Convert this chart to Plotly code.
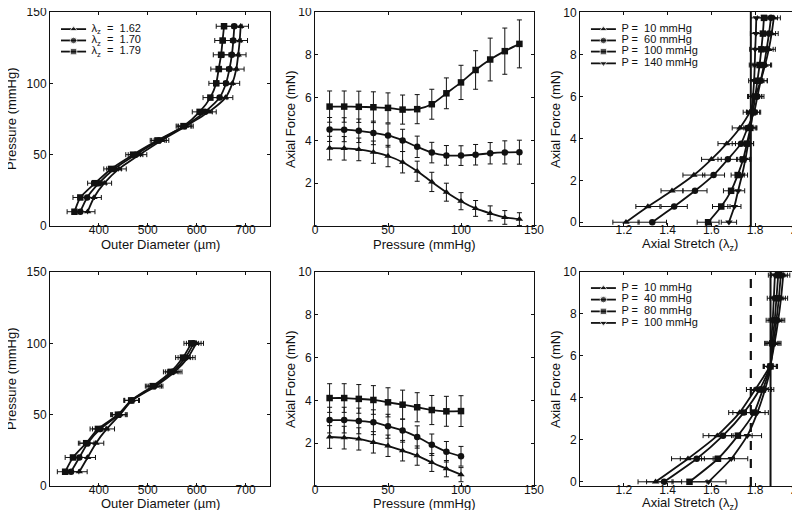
import plotly.graph_objects as go

# ---------------- data ----------------
# Top row (lambda_z = 1.62, 1.70, 1.79)
P_TOP = [10, 20, 30, 40, 50, 60, 70, 80, 90, 100, 110, 120, 130, 140]
OD_TOP_162 = [377, 390, 411, 441, 483, 528, 578, 625, 659, 673, 681, 685, 688, 690]
OD_TOP_170 = [362, 376, 400, 431, 475, 523, 575, 617, 647, 660, 667, 672, 675, 677]
OD_TOP_179 = [350, 362, 392, 425, 470, 520, 573, 606, 628, 640, 645, 650, 653, 656]
OD_TOP_ERR = [15, 15, 15, 15, 15, 15, 15, 15, 15, 15, 16, 16, 16, 16]

AF_TOP_162 = [3.64, 3.63, 3.58, 3.45, 3.27, 2.98, 2.56, 2.06, 1.58, 1.16, 0.82, 0.59, 0.40, 0.32]
AF_TOP_170 = [4.51, 4.50, 4.45, 4.35, 4.23, 4.00, 3.70, 3.43, 3.30, 3.29, 3.33, 3.40, 3.44, 3.45]
AF_TOP_179 = [5.58, 5.58, 5.57, 5.55, 5.52, 5.44, 5.46, 5.69, 6.20, 6.71, 7.29, 7.78, 8.17, 8.51]
AF_TOP_162_ERR = [0.55, 0.55, 0.53, 0.52, 0.50, 0.50, 0.47, 0.45, 0.42, 0.40, 0.37, 0.35, 0.32, 0.30]
AF_TOP_170_ERR = [0.56, 0.56, 0.55, 0.55, 0.54, 0.52, 0.50, 0.48, 0.46, 0.46, 0.48, 0.50, 0.54, 0.56]
AF_TOP_179_ERR = [0.73, 0.73, 0.73, 0.72, 0.70, 0.68, 0.68, 0.70, 0.72, 0.80, 0.90, 1.00, 1.08, 1.12]

F_LEVELS_TOP = [0, 0.75, 1.5, 2.25, 3.0, 3.75, 4.5, 5.25, 6.0, 6.75, 7.5, 8.25, 9.0, 9.75]
ST_TOP_P10 = [1.21, 1.31, 1.42, 1.52, 1.60, 1.67, 1.73, 1.775, 1.80, 1.825, 1.845, 1.862, 1.875, 1.885]
ST_TOP_P60 = [1.33, 1.43, 1.525, 1.61, 1.675, 1.735, 1.765, 1.795, 1.81, 1.825, 1.84, 1.852, 1.863, 1.872]
ST_TOP_P100 = [1.585, 1.645, 1.69, 1.72, 1.745, 1.762, 1.778, 1.79, 1.80, 1.81, 1.82, 1.828, 1.835, 1.84]
ST_TOP_P140 = [1.68, 1.705, 1.722, 1.74, 1.755, 1.768, 1.78, 1.785, 1.79, 1.795, 1.798, 1.80, 1.803, 1.805]
ST_TOP_P10_ERR = [0.06, 0.055, 0.05, 0.05, 0.045, 0.04, 0.035, 0.03, 0.03, 0.03, 0.03, 0.03, 0.03, 0.03]
ST_TOP_P60_ERR = [0.065, 0.06, 0.055, 0.05, 0.045, 0.04, 0.035, 0.03, 0.03, 0.03, 0.03, 0.03, 0.03, 0.03]
ST_TOP_P100_ERR = [0.05, 0.04, 0.035, 0.03, 0.03, 0.03, 0.03, 0.03, 0.03, 0.03, 0.03, 0.03, 0.03, 0.03]
ST_TOP_P140_ERR = [0.035, 0.03, 0.03, 0.025, 0.025, 0.025, 0.025, 0.025, 0.025, 0.025, 0.025, 0.025, 0.025, 0.025]
INVIVO_TOP = 1.78

# Bottom row
P_BOT = [10, 20, 30, 40, 50, 60, 70, 80, 90, 100]
OD_BOT_A = [360, 377, 394, 416, 443, 468, 516, 555, 582, 599]
OD_BOT_B = [343, 360, 377, 403, 441, 467, 513, 551, 577, 594]
OD_BOT_C = [331, 347, 374, 398, 439, 466, 510, 547, 572, 589]
OD_BOT_ERR = [16, 16, 16, 16, 15, 15, 15, 15, 15, 15]

AF_BOT_A = [2.29, 2.26, 2.20, 2.04, 1.88, 1.65, 1.42, 1.10, 0.81, 0.53]
AF_BOT_B = [3.08, 3.08, 3.04, 2.98, 2.79, 2.59, 2.29, 1.93, 1.60, 1.39]
AF_BOT_C = [4.11, 4.11, 4.07, 4.02, 3.91, 3.80, 3.68, 3.55, 3.49, 3.50]
AF_BOT_A_ERR = [0.53, 0.53, 0.52, 0.50, 0.50, 0.48, 0.45, 0.42, 0.38, 0.33]
AF_BOT_B_ERR = [0.60, 0.60, 0.60, 0.58, 0.56, 0.54, 0.52, 0.50, 0.48, 0.46]
AF_BOT_C_ERR = [0.67, 0.67, 0.67, 0.67, 0.68, 0.68, 0.68, 0.68, 0.70, 0.72]

F_LEVELS_BOT = [0, 1.1, 2.2, 3.3, 4.4, 5.5, 6.6, 7.7, 8.75, 9.85]
ST_BOT_P10 = [1.345, 1.493, 1.627, 1.729, 1.80, 1.866, 1.888, 1.905, 1.918, 1.928]
ST_BOT_P40 = [1.384, 1.533, 1.653, 1.748, 1.82, 1.868, 1.883, 1.897, 1.908, 1.917]
ST_BOT_P80 = [1.50, 1.63, 1.721, 1.795, 1.835, 1.870, 1.878, 1.889, 1.897, 1.905]
ST_BOT_P100 = [1.587, 1.691, 1.764, 1.81, 1.845, 1.872, 1.873, 1.88, 1.885, 1.89]
ST_BOT_ERR = [0.08, 0.075, 0.065, 0.05, 0.04, 0.03, 0.03, 0.03, 0.03, 0.03]
INVIVO_BOT_DASH = 1.78
INVIVO_BOT_SOLID = 1.87

LEG_TOP_LEFT = ["λ<sub>z</sub>  =  1.62", "λ<sub>z</sub>  =  1.70", "λ<sub>z</sub>  =  1.79"]
LEG_TOP_RIGHT = ["P =  10 mmHg", "P =  60 mmHg", "P =  100 mmHg", "P =  140 mmHg"]
LEG_BOT_RIGHT = ["P =  10 mmHg", "P =  40 mmHg", "P =  80 mmHg", "P =  100 mmHg"]

# ---------------- styling ----------------
W, H = 800, 510
FONT = "Arial"
BLACK = "#111111"
SYM3 = ["triangle-up", "circle", "square"]
SYM4 = ["triangle-up", "circle", "square", "triangle-down"]
MS = 6.5

# domains (pixels -> fractions)
COLS = [(42, 262), (307, 526), (572, 791)]
ROWS = [(4, 218), (264, 478)]
YTITLE_X = [3, 282, 547]       # px anchor of y-axis titles per column
XTITLE_Y = [236, 495]          # px anchor of x-axis titles per row


def xd(c):
    return [COLS[c][0] / W, COLS[c][1] / W]


def yd(r):
    return [1 - ROWS[r][1] / H, 1 - ROWS[r][0] / H]


fig = go.Figure()


def add_series(xs, ys, sym, ax, ex=None, ey=None):
    kw = {}
    if ex is not None:
        kw["error_x"] = dict(type="data", array=ex, visible=True, color=BLACK, thickness=1, width=2.5)
    if ey is not None:
        kw["error_y"] = dict(type="data", array=ey, visible=True, color=BLACK, thickness=1, width=2.5)
    fig.add_trace(go.Scatter(
        x=xs, y=ys, mode="lines+markers", xaxis="x" + ax, yaxis="y" + ax,
        line=dict(color=BLACK, width=1.8, shape="spline", smoothing=0.6),
        marker=dict(symbol=sym, size=MS, color=BLACK),
        showlegend=False, hoverinfo="skip", **kw))


# Panel 1
for d, s in zip([OD_TOP_162, OD_TOP_170, OD_TOP_179], SYM3):
    add_series(d, P_TOP, s, "", ex=OD_TOP_ERR)
# Panel 2
for d, e, s in zip([AF_TOP_162, AF_TOP_170, AF_TOP_179],
                   [AF_TOP_162_ERR, AF_TOP_170_ERR, AF_TOP_179_ERR], SYM3):
    add_series(P_TOP, d, s, "2", ey=e)
# Panel 3
for d, e, s in zip([ST_TOP_P10, ST_TOP_P60, ST_TOP_P100, ST_TOP_P140],
                   [ST_TOP_P10_ERR, ST_TOP_P60_ERR, ST_TOP_P100_ERR, ST_TOP_P140_ERR], SYM4):
    add_series(d, F_LEVELS_TOP, s, "3", ex=e)
# Panel 4
for d, s in zip([OD_BOT_A, OD_BOT_B, OD_BOT_C], SYM3):
    add_series(d, P_BOT, s, "4", ex=OD_BOT_ERR)
# Panel 5
for d, e, s in zip([AF_BOT_A, AF_BOT_B, AF_BOT_C],
                   [AF_BOT_A_ERR, AF_BOT_B_ERR, AF_BOT_C_ERR], SYM3):
    add_series(P_BOT, d, s, "5", ey=e)
# Panel 6
for d, s in zip([ST_BOT_P10, ST_BOT_P40, ST_BOT_P80, ST_BOT_P100], SYM4):
    add_series(d, F_LEVELS_BOT, s, "6", ex=ST_BOT_ERR)

# reference lines (in vivo stretch)
fig.add_shape(type="line", xref="x3", yref="y3 domain", x0=INVIVO_TOP, x1=INVIVO_TOP, y0=0, y1=1,
              line=dict(color=BLACK, width=2))
fig.add_shape(type="line", xref="x6", yref="y6 domain", x0=INVIVO_BOT_SOLID, x1=INVIVO_BOT_SOLID, y0=0, y1=1,
              line=dict(color=BLACK, width=2))
fig.add_shape(type="line", xref="x6", yref="y6 domain", x0=INVIVO_BOT_DASH, x1=INVIVO_BOT_DASH, y0=0, y1=1,
              line=dict(color=BLACK, width=2.2, dash="dash"))


# legends drawn on overlay axes with 0..1 range
LEG_X = [0.05, 0.107, 0.164]


def add_legend(labels, syms, ax, ys):
    for lab, s, yy in zip(labels, syms, ys):
        fig.add_trace(go.Scatter(
            x=LEG_X, y=[yy] * 3, xaxis="x" + ax, yaxis="y" + ax,
            mode="lines+markers",
            line=dict(color=BLACK, width=1.8),
            marker=dict(symbol=s, size=[0, MS, 0], color=BLACK),
            showlegend=False, hoverinfo="skip", cliponaxis=False))
        fig.add_trace(go.Scatter(
            x=[LEG_X[-1] + 0.025], y=[yy], xaxis="x" + ax, yaxis="y" + ax,
            mode="text", text=[lab], textposition="middle right",
            textfont=dict(family=FONT, size=11, color=BLACK),
            showlegend=False, hoverinfo="skip", cliponaxis=False))


add_legend(LEG_TOP_LEFT, SYM3, "7", [0.92, 0.867, 0.815])
add_legend(LEG_TOP_RIGHT, SYM4, "8", [0.92, 0.867, 0.815, 0.76])
add_legend(LEG_BOT_RIGHT, SYM4, "9", [0.925, 0.871, 0.816, 0.762])

tickfont = dict(family=FONT, size=12, color=BLACK)
titlefont = dict(family=FONT, size=13, color=BLACK)


def axis(domain, rng, tickvals, ticktext, anchor, is_x):
    return dict(domain=domain, range=rng, tickvals=tickvals, ticktext=ticktext,
                showline=True, linecolor=BLACK, linewidth=1, mirror="ticks",
                ticks="inside", ticklen=3, tickcolor=BLACK, tickwidth=1,
                showgrid=False, zeroline=False, tickfont=tickfont,
                ticklabeloverflow="allow",
                ticklabelstandoff=(-7 if is_x else 0),
                anchor=anchor, automargin=False)


lay = {}
annotations = []
spec = [
    ("", 0, 0, [300, 750], [400, 500, 600, 700], ["400", "500", "600", "700"], "Outer Diameter (µm)",
     [0, 150], [0, 50, 100, 150], ["0", "50", "100", "150"], "Pressure (mmHg)"),
    ("2", 1, 0, [0, 150], [0, 50, 100, 150], ["0", "50", "100", "150"], "Pressure (mmHg)",
     [0, 10], [2, 4, 6, 8, 10], ["2", "4", "6", "8", "10"], "Axial Force (mN)"),
    ("3", 2, 0, [1.0, 2.0], [1.2, 1.4, 1.6, 1.8, 2.0], ["1.2", "1.4", "1.6", "1.8", "2.0"], "Axial Stretch (λ<sub>z</sub>)",
     [-0.18, 10.03], [0, 2, 4, 6, 8, 10], ["0", "2", "4", "6", "8", "10"], "Axial Force (mN)"),
    ("4", 0, 1, [300, 750], [400, 500, 600, 700], ["400", "500", "600", "700"], "Outer Diameter (µm)",
     [0, 150], [0, 50, 100, 150], ["0", "50", "100", "150"], "Pressure (mmHg)"),
    ("5", 1, 1, [0, 150], [0, 50, 100, 150], ["0", "50", "100", "150"], "Pressure (mmHg)",
     [0, 10], [2, 4, 6, 8, 10], ["2", "4", "6", "8", "10"], "Axial Force (mN)"),
    ("6", 2, 1, [1.0, 2.0], [1.2, 1.4, 1.6, 1.8, 2.0], ["1.2", "1.4", "1.6", "1.8", "2.0"], "Axial Stretch (λ<sub>z</sub>)",
     [-0.2, 10.0], [0, 2, 4, 6, 8, 10], ["0", "2", "4", "6", "8", "10"], "Axial Force (mN)"),
]
for ax, c, r, xr, xt, xtt, xtitle, yr, yt, ytt, ytitle in spec:
    lay["xaxis" + ax] = axis(xd(c), xr, xt, xtt, "y" + ax, True)
    lay["yaxis" + ax] = axis(yd(r), yr, yt, ytt, "x" + ax, False)
    annotations.append(dict(text=xtitle, xref="paper", yref="paper",
                            x=sum(COLS[c]) / 2 / W, y=1 - XTITLE_Y[r] / H,
                            xanchor="center", yanchor="middle", showarrow=False, font=titlefont))
    annotations.append(dict(text=ytitle, xref="paper", yref="paper", textangle=-90,
                            x=YTITLE_X[c] / W, y=1 - sum(ROWS[r]) / 2 / H,
                            xanchor="center", yanchor="middle", showarrow=False, font=titlefont))

# overlay legend axes
for ax, base, c, r in [("7", "", 0, 0), ("8", "3", 2, 0), ("9", "6", 2, 1)]:
    lay["xaxis" + ax] = dict(domain=xd(c), range=[0, 1], visible=False, overlaying="x" + base, anchor="y" + ax)
    lay["yaxis" + ax] = dict(domain=yd(r), range=[0, 1], visible=False, overlaying="y" + base, anchor="x" + ax)

fig.update_layout(
    width=W, height=H, margin=dict(l=0, r=0, t=0, b=0),
    paper_bgcolor="white", plot_bgcolor="white",
    font=dict(family=FONT, size=12, color=BLACK),
    annotations=annotations,
    showlegend=False, **lay)

fig.write_html("out.html")
